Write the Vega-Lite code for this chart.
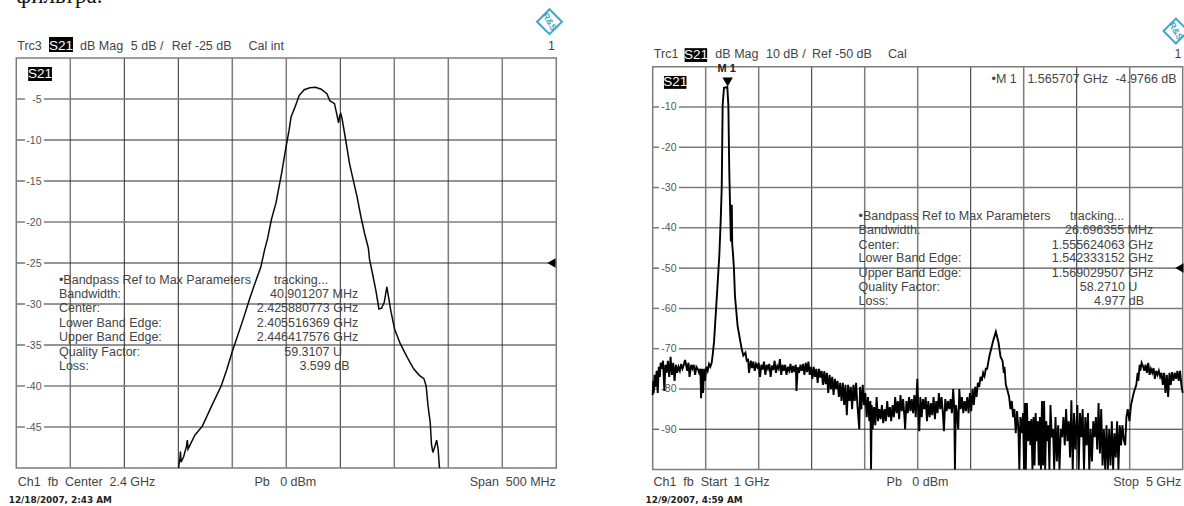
{"$schema":"https://vega.github.io/schema/vega-lite/v6.json","width":1184,"height":506,"autosize":"none","padding":0,"background":"white","config":{"view":{"stroke":null},"text":{"font":"Liberation Sans"}},
"datasets":{
"rulesL":[{"f":2200,"f2":2200,"db":0,"db2":-50,"tone":"gray"},{"f":2250,"f2":2250,"db":0,"db2":-50,"tone":"dark"},{"f":2300,"f2":2300,"db":0,"db2":-50,"tone":"dark"},{"f":2350,"f2":2350,"db":0,"db2":-50,"tone":"gray"},{"f":2400,"f2":2400,"db":0,"db2":-50,"tone":"gray"},{"f":2450,"f2":2450,"db":0,"db2":-50,"tone":"dark"},{"f":2500,"f2":2500,"db":0,"db2":-50,"tone":"gray"},{"f":2550,"f2":2550,"db":0,"db2":-50,"tone":"gray"},{"f":2600,"f2":2600,"db":0,"db2":-50,"tone":"gray"},
{"f":2150,"f2":2158,"db":-5,"db2":-5,"tone":"gray"},{"f":2175.6,"f2":2650,"db":-5,"db2":-5,"tone":"gray"},{"f":2150,"f2":2158,"db":-10,"db2":-10,"tone":"dark"},{"f":2175.6,"f2":2650,"db":-10,"db2":-10,"tone":"dark"},{"f":2150,"f2":2158,"db":-15,"db2":-15,"tone":"dark"},{"f":2175.6,"f2":2650,"db":-15,"db2":-15,"tone":"dark"},{"f":2150,"f2":2158,"db":-20,"db2":-20,"tone":"gray"},{"f":2175.6,"f2":2650,"db":-20,"db2":-20,"tone":"gray"},{"f":2150,"f2":2158,"db":-25,"db2":-25,"tone":"dark"},{"f":2175.6,"f2":2650,"db":-25,"db2":-25,"tone":"dark"},{"f":2150,"f2":2158,"db":-30,"db2":-30,"tone":"dark"},{"f":2175.6,"f2":2650,"db":-30,"db2":-30,"tone":"dark"},{"f":2150,"f2":2158,"db":-35,"db2":-35,"tone":"dark"},{"f":2175.6,"f2":2650,"db":-35,"db2":-35,"tone":"dark"},{"f":2150,"f2":2158,"db":-40,"db2":-40,"tone":"gray"},{"f":2175.6,"f2":2650,"db":-40,"db2":-40,"tone":"gray"},{"f":2150,"f2":2158,"db":-45,"db2":-45,"tone":"gray"},{"f":2175.6,"f2":2650,"db":-45,"db2":-45,"tone":"gray"}],
"rulesR":[{"f":1.4,"f2":1.4,"db":0,"db2":-100,"tone":"gray"},{"f":1.8,"f2":1.8,"db":0,"db2":-100,"tone":"gray"},{"f":2.2,"f2":2.2,"db":0,"db2":-100,"tone":"dark"},{"f":2.6,"f2":2.6,"db":0,"db2":-100,"tone":"gray"},{"f":3.0,"f2":3.0,"db":0,"db2":-100,"tone":"gray"},{"f":3.4,"f2":3.4,"db":0,"db2":-100,"tone":"dark"},{"f":3.8,"f2":3.8,"db":0,"db2":-100,"tone":"gray"},{"f":4.2,"f2":4.2,"db":0,"db2":-100,"tone":"dark"},{"f":4.6,"f2":4.6,"db":0,"db2":-100,"tone":"gray"},
{"f":1,"f2":1.048,"db":-10,"db2":-10,"tone":"gray"},{"f":1.198,"f2":5,"db":-10,"db2":-10,"tone":"gray"},{"f":1,"f2":1.048,"db":-20,"db2":-20,"tone":"gray"},{"f":1.198,"f2":5,"db":-20,"db2":-20,"tone":"gray"},{"f":1,"f2":1.048,"db":-30,"db2":-30,"tone":"gray"},{"f":1.198,"f2":5,"db":-30,"db2":-30,"tone":"gray"},{"f":1,"f2":1.048,"db":-40,"db2":-40,"tone":"gray"},{"f":1.198,"f2":5,"db":-40,"db2":-40,"tone":"gray"},{"f":1,"f2":1.048,"db":-50,"db2":-50,"tone":"dark"},{"f":1.198,"f2":5,"db":-50,"db2":-50,"tone":"dark"},{"f":1,"f2":1.048,"db":-60,"db2":-60,"tone":"gray"},{"f":1.198,"f2":5,"db":-60,"db2":-60,"tone":"gray"},{"f":1,"f2":1.048,"db":-70,"db2":-70,"tone":"gray"},{"f":1.198,"f2":5,"db":-70,"db2":-70,"tone":"gray"},{"f":1,"f2":1.048,"db":-80,"db2":-80,"tone":"gray"},{"f":1.198,"f2":5,"db":-80,"db2":-80,"tone":"gray"},{"f":1,"f2":1.048,"db":-90,"db2":-90,"tone":"dark"},{"f":1.198,"f2":5,"db":-90,"db2":-90,"tone":"dark"}],
"traceL":[{"f":2300.2,"db":-50},{"f":2301.5,"db":-48.8},{"f":2302,"db":-48},{"f":2302.6,"db":-49.3},{"f":2305,"db":-48.6},{"f":2307.5,"db":-47.4},{"f":2308.4,"db":-46.6},{"f":2309,"db":-47.7},{"f":2315.3,"db":-46},{"f":2322.3,"db":-44.9},{"f":2331,"db":-42.4},{"f":2339.7,"db":-40},{"f":2345,"db":-37.95},{"f":2350.2,"db":-35.7},{"f":2355.4,"db":-33.7},{"f":2360.7,"db":-31.6},{"f":2366,"db":-29.4},{"f":2370.1,"db":-27.8},{"f":2376.4,"db":-25.5},{"f":2379.9,"db":-23.4},{"f":2382.7,"db":-22},{"f":2386.2,"db":-19.7},{"f":2390.4,"db":-17.7},{"f":2395.6,"db":-14.1},{"f":2399.8,"db":-10.8},{"f":2402.6,"db":-8.8},{"f":2404.4,"db":-7.2},{"f":2408.6,"db":-5.8},{"f":2412,"db":-4.55},{"f":2416.6,"db":-3.87},{"f":2421.8,"db":-3.62},{"f":2427,"db":-3.58},{"f":2432.3,"db":-3.8},{"f":2437.6,"db":-4.35},{"f":2440.4,"db":-5.24},{"f":2442.1,"db":-5.35},{"f":2444.6,"db":-5.57},{"f":2446.3,"db":-6.58},{"f":2448.4,"db":-7.9},{"f":2449.5,"db":-7},{"f":2450.5,"db":-6.8},{"f":2451.5,"db":-7.3},{"f":2455,"db":-10},{"f":2458.5,"db":-12.85},{"f":2462,"db":-14.9},{"f":2465.5,"db":-16.9},{"f":2469,"db":-19.3},{"f":2472.5,"db":-21.4},{"f":2476,"db":-23.2},{"f":2477,"db":-24.5},{"f":2479.5,"db":-26.1},{"f":2483,"db":-28.4},{"f":2485.8,"db":-30.6},{"f":2488.2,"db":-30.5},{"f":2490.7,"db":-29.8},{"f":2493.1,"db":-27.9},{"f":2494.5,"db":-29},{"f":2497,"db":-31},{"f":2500.4,"db":-33.1},{"f":2505.7,"db":-34.9},{"f":2512,"db":-36.5},{"f":2517.9,"db":-37.9},{"f":2523.2,"db":-38.7},{"f":2527.4,"db":-39.1},{"f":2529.5,"db":-40},{"f":2531.2,"db":-42.4},{"f":2533.3,"db":-44.5},{"f":2534.4,"db":-47.1},{"f":2535.7,"db":-48.1},{"f":2537.8,"db":-47.3},{"f":2539.2,"db":-46.6},{"f":2540.6,"db":-47.7},{"f":2541.7,"db":-49.8},{"f":2542,"db":-50}],
"traceR":[{"f":1.0,"db":-81.5},{"f":1.004,"db":-78},{"f":1.008,"db":-81},{"f":1.014,"db":-76.5},{"f":1.02,"db":-79.5},{"f":1.03,"db":-75.5},{"f":1.038,"db":-81},{"f":1.046,"db":-74.5},{"f":1.054,"db":-77},{"f":1.06,"db":-73.5},{"f":1.07,"db":-75},{"f":1.078,"db":-73},{"f":1.088,"db":-80.5},{"f":1.096,"db":-74},{"f":1.105,"db":-76},{"f":1.115,"db":-73},{"f":1.125,"db":-77},{"f":1.135,"db":-72},{"f":1.145,"db":-76.5},{"f":1.155,"db":-73.5},{"f":1.165,"db":-78},{"f":1.175,"db":-74},{"f":1.185,"db":-76},{"f":1.195,"db":-74.5},{"f":1.205,"db":-75.5},{"f":1.215,"db":-73.8},{"f":1.225,"db":-75},{"f":1.235,"db":-74},{"f":1.244,"db":-72.8},{"f":1.252,"db":-74},{"f":1.26,"db":-75.5},{"f":1.27,"db":-73.5},{"f":1.278,"db":-77},{"f":1.29,"db":-74},{"f":1.3,"db":-75},{"f":1.31,"db":-74},{"f":1.32,"db":-76.5},{"f":1.33,"db":-74.5},{"f":1.34,"db":-75},{"f":1.35,"db":-76},{"f":1.36,"db":-75},{"f":1.365,"db":-82.3},{"f":1.372,"db":-75},{"f":1.38,"db":-81},{"f":1.388,"db":-75},{"f":1.395,"db":-78},{"f":1.405,"db":-74.5},{"f":1.415,"db":-75.5},{"f":1.425,"db":-73.8},{"f":1.435,"db":-74.5},{"f":1.445,"db":-73.5},{"f":1.453,"db":-71.5},{"f":1.463,"db":-68.2},{"f":1.488,"db":-55},{"f":1.503,"db":-46.7},{"f":1.513,"db":-38.4},{"f":1.521,"db":-30},{"f":1.528,"db":-9.5},{"f":1.538,"db":-5.2},{"f":1.563,"db":-5},{"f":1.571,"db":-9.5},{"f":1.578,"db":-26},{"f":1.59,"db":-43.4},{"f":1.597,"db":-34.3},{"f":1.6,"db":-44},{"f":1.605,"db":-46},{"f":1.613,"db":-50},{"f":1.621,"db":-57},{"f":1.641,"db":-64.4},{"f":1.67,"db":-69.8},{"f":1.684,"db":-71.7},{"f":1.7,"db":-71},{"f":1.71,"db":-73},{"f":1.72,"db":-72.8},{"f":1.727,"db":-76},{"f":1.74,"db":-73},{"f":1.75,"db":-74.8},{"f":1.76,"db":-73.2},{"f":1.77,"db":-75.5},{"f":1.78,"db":-73.8},{"f":1.79,"db":-74.6},{"f":1.8,"db":-73.5},{"f":1.81,"db":-77},{"f":1.82,"db":-74},{"f":1.83,"db":-75.2},{"f":1.84,"db":-73.2},{"f":1.85,"db":-76.5},{"f":1.86,"db":-74},{"f":1.87,"db":-75},{"f":1.88,"db":-73.8},{"f":1.89,"db":-77},{"f":1.9,"db":-74.2},{"f":1.91,"db":-75.3},{"f":1.92,"db":-73},{"f":1.93,"db":-76},{"f":1.94,"db":-74.3},{"f":1.95,"db":-75},{"f":1.96,"db":-72.6},{"f":1.97,"db":-76.5},{"f":1.98,"db":-74},{"f":1.99,"db":-75.5},{"f":2.0,"db":-74},{"f":2.01,"db":-76.5},{"f":2.02,"db":-74.5},{"f":2.03,"db":-75.5},{"f":2.04,"db":-73.8},{"f":2.05,"db":-76},{"f":2.06,"db":-74.3},{"f":2.07,"db":-75.8},{"f":2.08,"db":-74},{"f":2.085,"db":-80.5},{"f":2.095,"db":-74.6},{"f":2.105,"db":-76},{"f":2.115,"db":-74},{"f":2.125,"db":-75.5},{"f":2.135,"db":-73.8},{"f":2.145,"db":-76.5},{"f":2.155,"db":-73.5},{"f":2.165,"db":-75.8},{"f":2.175,"db":-73.2},{"f":2.185,"db":-76.5},{"f":2.195,"db":-74.5},{"f":2.205,"db":-77.5},{"f":2.215,"db":-74.5},{"f":2.225,"db":-77},{"f":2.235,"db":-75},{"f":2.245,"db":-78.5},{"f":2.255,"db":-75},{"f":2.265,"db":-77.2},{"f":2.275,"db":-75.5},{"f":2.285,"db":-79},{"f":2.295,"db":-75.6},{"f":2.305,"db":-78.8},{"f":2.315,"db":-76},{"f":2.325,"db":-81},{"f":2.335,"db":-76.5},{"f":2.345,"db":-80},{"f":2.355,"db":-77},{"f":2.365,"db":-81.5},{"f":2.375,"db":-77.5},{"f":2.385,"db":-80},{"f":2.395,"db":-78},{"f":2.405,"db":-82},{"f":2.415,"db":-78.5},{"f":2.425,"db":-83},{"f":2.435,"db":-78.5},{"f":2.445,"db":-84},{"f":2.455,"db":-79},{"f":2.465,"db":-86.5},{"f":2.475,"db":-79},{"f":2.485,"db":-83},{"f":2.495,"db":-79.5},{"f":2.505,"db":-85},{"f":2.515,"db":-79},{"f":2.525,"db":-83},{"f":2.535,"db":-78.5},{"f":2.545,"db":-84},{"f":2.559,"db":-90},{"f":2.565,"db":-79.5},{"f":2.575,"db":-85},{"f":2.585,"db":-79},{"f":2.595,"db":-84},{"f":2.605,"db":-81},{"f":2.615,"db":-87},{"f":2.625,"db":-82},{"f":2.635,"db":-88},{"f":2.643,"db":-83},{"f":2.648,"db":-100},{"f":2.653,"db":-84},{"f":2.66,"db":-90},{"f":2.67,"db":-84.5},{"f":2.68,"db":-89},{"f":2.69,"db":-82},{"f":2.7,"db":-88},{"f":2.71,"db":-85},{"f":2.72,"db":-87.5},{"f":2.73,"db":-84},{"f":2.74,"db":-88.5},{"f":2.75,"db":-85},{"f":2.76,"db":-88},{"f":2.77,"db":-83},{"f":2.78,"db":-87},{"f":2.79,"db":-84.5},{"f":2.8,"db":-88},{"f":2.81,"db":-84},{"f":2.82,"db":-87},{"f":2.83,"db":-82},{"f":2.84,"db":-86},{"f":2.85,"db":-83},{"f":2.86,"db":-87.5},{"f":2.87,"db":-81.5},{"f":2.88,"db":-85.5},{"f":2.89,"db":-82.5},{"f":2.9,"db":-87},{"f":2.905,"db":-90},{"f":2.915,"db":-83},{"f":2.925,"db":-86},{"f":2.935,"db":-82},{"f":2.945,"db":-85.5},{"f":2.955,"db":-82.5},{"f":2.965,"db":-86},{"f":2.975,"db":-81.5},{"f":2.985,"db":-87},{"f":2.997,"db":-77.5},{"f":3.005,"db":-86},{"f":3.012,"db":-90.5},{"f":3.02,"db":-82},{"f":3.03,"db":-87},{"f":3.04,"db":-82.5},{"f":3.05,"db":-85},{"f":3.06,"db":-82},{"f":3.07,"db":-88},{"f":3.08,"db":-83},{"f":3.09,"db":-87},{"f":3.1,"db":-83.5},{"f":3.11,"db":-86.5},{"f":3.12,"db":-82},{"f":3.13,"db":-87.5},{"f":3.14,"db":-83},{"f":3.15,"db":-86},{"f":3.16,"db":-81},{"f":3.17,"db":-85},{"f":3.18,"db":-82},{"f":3.19,"db":-86},{"f":3.198,"db":-90.5},{"f":3.208,"db":-82.5},{"f":3.218,"db":-85.5},{"f":3.228,"db":-83},{"f":3.238,"db":-85},{"f":3.248,"db":-82.5},{"f":3.258,"db":-86},{"f":3.268,"db":-80},{"f":3.276,"db":-85},{"f":3.281,"db":-100},{"f":3.288,"db":-84},{"f":3.296,"db":-86},{"f":3.306,"db":-90},{"f":3.314,"db":-80},{"f":3.324,"db":-85},{"f":3.334,"db":-82},{"f":3.344,"db":-86},{"f":3.354,"db":-83},{"f":3.364,"db":-85.5},{"f":3.374,"db":-82},{"f":3.384,"db":-86},{"f":3.394,"db":-81},{"f":3.404,"db":-85.5},{"f":3.414,"db":-80},{"f":3.424,"db":-84},{"f":3.434,"db":-79.5},{"f":3.444,"db":-82},{"f":3.454,"db":-78.5},{"f":3.464,"db":-79.5},{"f":3.474,"db":-77},{"f":3.484,"db":-78},{"f":3.494,"db":-76},{"f":3.504,"db":-76.8},{"f":3.514,"db":-75},{"f":3.524,"db":-75},{"f":3.54,"db":-72},{"f":3.57,"db":-68},{"f":3.59,"db":-65.8},{"f":3.61,"db":-68.5},{"f":3.625,"db":-72},{"f":3.64,"db":-73},{"f":3.65,"db":-76},{"f":3.655,"db":-74.5},{"f":3.665,"db":-79},{"f":3.675,"db":-80},{"f":3.69,"db":-82},{"f":3.7,"db":-85},{"f":3.71,"db":-83},{"f":3.72,"db":-87},{"f":3.73,"db":-85},{"f":3.74,"db":-91},{"f":3.75,"db":-85.5},{"f":3.76,"db":-90},{"f":3.767,"db":-100},{"f":3.775,"db":-87},{"f":3.785,"db":-91},{"f":3.795,"db":-86},{"f":3.803,"db":-100},{"f":3.81,"db":-83.5},{"f":3.816,"db":-100},{"f":3.824,"db":-83.5},{"f":3.832,"db":-93},{"f":3.842,"db":-88},{"f":3.85,"db":-94},{"f":3.858,"db":-87.5},{"f":3.866,"db":-100},{"f":3.874,"db":-87},{"f":3.882,"db":-99},{"f":3.89,"db":-86},{"f":3.898,"db":-93},{"f":3.906,"db":-88},{"f":3.914,"db":-99},{"f":3.922,"db":-87},{"f":3.93,"db":-100},{"f":3.938,"db":-83},{"f":3.946,"db":-99},{"f":3.954,"db":-83},{"f":3.962,"db":-100},{"f":3.97,"db":-88},{"f":3.978,"db":-93},{"f":3.986,"db":-89},{"f":3.994,"db":-100},{"f":4.002,"db":-84},{"f":4.012,"db":-92},{"f":4.022,"db":-90},{"f":4.03,"db":-100},{"f":4.04,"db":-87},{"f":4.05,"db":-98},{"f":4.06,"db":-89},{"f":4.07,"db":-100},{"f":4.08,"db":-90},{"f":4.09,"db":-92},{"f":4.1,"db":-87},{"f":4.11,"db":-94},{"f":4.12,"db":-85},{"f":4.13,"db":-93},{"f":4.14,"db":-88},{"f":4.15,"db":-97},{"f":4.16,"db":-82.8},{"f":4.17,"db":-100},{"f":4.18,"db":-86},{"f":4.19,"db":-95},{"f":4.205,"db":-84},{"f":4.215,"db":-100},{"f":4.225,"db":-86},{"f":4.235,"db":-92},{"f":4.245,"db":-85},{"f":4.255,"db":-100},{"f":4.265,"db":-87},{"f":4.275,"db":-94},{"f":4.285,"db":-86},{"f":4.295,"db":-100},{"f":4.305,"db":-90},{"f":4.315,"db":-98},{"f":4.325,"db":-88},{"f":4.335,"db":-92},{"f":4.345,"db":-87},{"f":4.355,"db":-95},{"f":4.365,"db":-83.5},{"f":4.375,"db":-96},{"f":4.385,"db":-85},{"f":4.395,"db":-99},{"f":4.405,"db":-90},{"f":4.415,"db":-100},{"f":4.425,"db":-89},{"f":4.435,"db":-100},{"f":4.445,"db":-90},{"f":4.455,"db":-99},{"f":4.465,"db":-88},{"f":4.475,"db":-100},{"f":4.485,"db":-91},{"f":4.495,"db":-97},{"f":4.505,"db":-88},{"f":4.515,"db":-100},{"f":4.525,"db":-89},{"f":4.535,"db":-94},{"f":4.545,"db":-89},{"f":4.555,"db":-92.5},{"f":4.566,"db":-94},{"f":4.575,"db":-87},{"f":4.585,"db":-85},{"f":4.598,"db":-88},{"f":4.61,"db":-84},{"f":4.63,"db":-81},{"f":4.65,"db":-79},{"f":4.66,"db":-76},{"f":4.665,"db":-78},{"f":4.675,"db":-74},{"f":4.68,"db":-75.5},{"f":4.69,"db":-73.5},{"f":4.7,"db":-74.3},{"f":4.71,"db":-75.5},{"f":4.72,"db":-74},{"f":4.73,"db":-76},{"f":4.74,"db":-73.5},{"f":4.75,"db":-76.5},{"f":4.76,"db":-75},{"f":4.77,"db":-76},{"f":4.78,"db":-74.8},{"f":4.79,"db":-77.5},{"f":4.8,"db":-75.5},{"f":4.81,"db":-76.5},{"f":4.82,"db":-75.5},{"f":4.83,"db":-77},{"f":4.84,"db":-76},{"f":4.85,"db":-79},{"f":4.86,"db":-76},{"f":4.87,"db":-81},{"f":4.88,"db":-76.5},{"f":4.89,"db":-82},{"f":4.9,"db":-76},{"f":4.91,"db":-79},{"f":4.92,"db":-75.8},{"f":4.93,"db":-78},{"f":4.94,"db":-76},{"f":4.95,"db":-77.5},{"f":4.96,"db":-75.5},{"f":4.97,"db":-78},{"f":4.98,"db":-75.5},{"f":4.99,"db":-79},{"f":5.0,"db":-81}]
},
"layer":[
{"encoding":{"x":{"field":"f","type":"quantitative","scale":{"domain":[2150,2650],"range":[16.3,556.3],"nice":false,"zero":false},"axis":null},"y":{"field":"db","type":"quantitative","scale":{"domain":[0,-50],"range":[58,468],"nice":false,"zero":false},"axis":{"orient":"left","values":[-5,-10,-15,-20,-25,-30,-35,-40,-45],"labelExpr":"'-' + abs(datum.value)","offset":-41,"labelPadding":0,"domain":false,"ticks":false,"grid":false,"title":null,"labelFont":"Liberation Sans","labelFontSize":10.5,"labelColor":"#555555"}}},
"layer":[
{"data":{"name":"rulesL"},"mark":{"type":"rule"},"encoding":{"x2":{"field":"f2"},"y2":{"field":"db2"},"color":{"field":"tone","type":"nominal","scale":{"domain":["dark","gray"],"range":["#2a2a2a","#7c7c7c"]},"legend":null},"strokeWidth":{"field":"tone","type":"nominal","scale":{"domain":["dark","gray"],"range":[1,1.5]},"legend":null}}},
{"data":{"values":[{"f":2150,"f2":2650,"db":0,"db2":-50}]},"mark":{"type":"rect","fill":"transparent","stroke":"#7c7c7c","strokeWidth":1.5},"encoding":{"x2":{"field":"f2"},"y2":{"field":"db2"}}},
{"data":{"name":"traceL"},"mark":{"type":"line","color":"#0a0a0a","strokeWidth":1.5},"encoding":{}},
{"data":{"values":[{"f1":2180.3,"f2":2202.5,"db1":2.55,"db2":0.72},{"f1":2161,"f2":2183,"db1":-1.1,"db2":-2.8}]},"mark":{"type":"rect","color":"#000000"},"encoding":{"x":{"field":"f1","type":"quantitative"},"x2":{"field":"f2"},"y":{"field":"db1","type":"quantitative"},"y2":{"field":"db2"}}},
{"data":{"values":[{"f":2191.4,"db":1.5,"label":"S21"},{"f":2172,"db":-1.95,"label":"S21"}]},"mark":{"type":"text","color":"white","fontSize":13.5,"align":"center","baseline":"middle"},"encoding":{"text":{"field":"label"}}},
{"data":{"values":[{"f":2150.9,"db":1.5,"label":"Trc3"},{"f":2209,"db":1.5,"label":"dB Mag"},{"f":2256,"db":1.5,"label":"5 dB /"},{"f":2294,"db":1.5,"label":"Ref -25 dB"},{"f":2365,"db":1.5,"label":"Cal int"},{"f":2151.4,"db":-51.67,"label":"Ch1\u00a0\u00a0fb\u00a0\u00a0Center\u00a0\u00a02.4 GHz"},{"f":2370.5,"db":-51.67,"label":"Pb\u00a0\u00a0\u00a00 dBm"},{"f":2189.5,"db":-27.04,"label":"•Bandpass Ref to Max Parameters"},{"f":2388.6,"db":-27.04,"label":"tracking..."},{"f":2189.5,"db":-28.78,"label":"Bandwidth:"},{"f":2189.5,"db":-30.52,"label":"Center:"},{"f":2189.5,"db":-32.32,"label":"Lower Band Edge:"},{"f":2189.5,"db":-34.06,"label":"Upper Band Edge:"},{"f":2189.5,"db":-35.82,"label":"Quality Factor:"},{"f":2189.5,"db":-37.6,"label":"Loss:"}]},"mark":{"type":"text","color":"#444444","fontSize":12.5,"align":"left","baseline":"middle"},"encoding":{"text":{"field":"label"}}},
{"data":{"values":[{"f":2648.8,"db":1.5,"label":"1"},{"f":2649.6,"db":-51.67,"label":"Span\u00a0\u00a0500 MHz"},{"f":2466.6,"db":-28.78,"label":"40.901207 MHz"},{"f":2466.6,"db":-30.52,"label":"2.425880773 GHz"},{"f":2466.6,"db":-32.32,"label":"2.405516369 GHz"},{"f":2466.6,"db":-34.06,"label":"2.446417576 GHz"},{"f":2451.5,"db":-35.82,"label":"59.3107 U"},{"f":2458.5,"db":-37.6,"label":"3.599 dB"}]},"mark":{"type":"text","color":"#444444","fontSize":12.5,"align":"right","baseline":"middle"},"encoding":{"text":{"field":"label"}}},
{"data":{"values":[{"f":2143,"db":-53.94,"label":"12/18/2007, 2:43 AM"}]},"mark":{"type":"text","color":"#222222","font":"DejaVu Sans","fontWeight":"bold","fontSize":8.9,"align":"left","baseline":"middle"},"encoding":{"text":{"field":"label"}}},
{"data":{"values":[{"f":2150,"db":6.7,"label":"фильтра."}]},"mark":{"type":"text","color":"#111111","font":"Liberation Serif","fontSize":23,"align":"left","baseline":"alphabetic"},"encoding":{"text":{"field":"label"}}},
{"data":{"values":[{"f":2643.7,"db":4.43}]},"mark":{"type":"point","shape":"diamond","size":620,"filled":false,"color":"#3fa7c9","strokeWidth":2,"opacity":1},"encoding":{}},
{"data":{"values":[{"f":2643.7,"db":4.43,"label":"R&S"}]},"mark":{"type":"text","color":"#3fa7c9","fontSize":9,"fontWeight":"bold","angle":60,"align":"center","baseline":"middle"},"encoding":{"text":{"field":"label"}}},
{"data":{"values":[{"f":2645.5,"db":-25}]},"mark":{"type":"point","shape":"triangle-left","size":90,"filled":true,"color":"#000000","opacity":1},"encoding":{}}
]},
{"encoding":{"x":{"field":"f","type":"quantitative","scale":{"domain":[1,5],"range":[652.7,1182.7],"nice":false,"zero":false},"axis":null},"y":{"field":"db","type":"quantitative","scale":{"domain":[0,-100],"range":[66.7,469.5],"nice":false,"zero":false},"axis":{"orient":"left","values":[-10,-20,-30,-40,-50,-60,-70,-80,-90],"labelExpr":"'-' + abs(datum.value)","offset":-676,"labelPadding":0,"domain":false,"ticks":false,"grid":false,"title":null,"labelFont":"Liberation Sans","labelFontSize":10.5,"labelColor":"#555555"}}},
"layer":[
{"data":{"name":"rulesR"},"mark":{"type":"rule"},"encoding":{"x2":{"field":"f2"},"y2":{"field":"db2"},"color":{"field":"tone","type":"nominal","scale":{"domain":["dark","gray"],"range":["#2a2a2a","#7c7c7c"]},"legend":null},"strokeWidth":{"field":"tone","type":"nominal","scale":{"domain":["dark","gray"],"range":[1,1.5]},"legend":null}}},
{"data":{"values":[{"f":1,"f2":5,"db":0,"db2":-100}]},"mark":{"type":"rect","fill":"transparent","stroke":"#7c7c7c","strokeWidth":1.5},"encoding":{"x2":{"field":"f2"},"y2":{"field":"db2"}}},
{"data":{"name":"traceR"},"mark":{"type":"line","color":"#000000","strokeWidth":1.9},"encoding":{}},
{"data":{"values":[{"f1":1.241,"f2":1.411,"db1":4.6,"db2":1.16},{"f1":1.085,"f2":1.255,"db1":-2.3,"db2":-5.5}]},"mark":{"type":"rect","color":"#000000"},"encoding":{"x":{"field":"f1","type":"quantitative"},"x2":{"field":"f2"},"y":{"field":"db1","type":"quantitative"},"y2":{"field":"db2"}}},
{"data":{"values":[{"f":1.326,"db":2.9,"label":"S21"},{"f":1.17,"db":-3.9,"label":"S21"}]},"mark":{"type":"text","color":"white","fontSize":13.5,"align":"center","baseline":"middle"},"encoding":{"text":{"field":"label"}}},
{"data":{"values":[{"f":1.0086,"db":3.08,"label":"Trc1"},{"f":1.473,"db":3.08,"label":"dB Mag"},{"f":1.855,"db":3.08,"label":"10 dB /"},{"f":2.203,"db":3.08,"label":"Ref -50 dB"},{"f":2.776,"db":3.08,"label":"Cal"},{"f":1.006,"db":-103.1,"label":"Ch1\u00a0\u00a0fb\u00a0\u00a0Start\u00a0\u00a01 GHz"},{"f":2.765,"db":-103.1,"label":"Pb\u00a0\u00a0\u00a00 dBm"},{"f":3.557,"db":-2.98,"label":"•M 1"},{"f":3.828,"db":-2.98,"label":"1.565707 GHz"},{"f":2.554,"db":-37.05,"label":"•Bandpass Ref to Max Parameters"},{"f":4.15,"db":-37.05,"label":"tracking..."},{"f":2.554,"db":-40.6,"label":"Bandwidth:"},{"f":2.554,"db":-44.17,"label":"Center:"},{"f":2.554,"db":-47.54,"label":"Lower Band Edge:"},{"f":2.554,"db":-51.1,"label":"Upper Band Edge:"},{"f":2.554,"db":-54.66,"label":"Quality Factor:"},{"f":2.554,"db":-58.14,"label":"Loss:"}]},"mark":{"type":"text","color":"#444444","fontSize":12.5,"align":"left","baseline":"middle"},"encoding":{"text":{"field":"label"}}},
{"data":{"values":[{"f":4.99,"db":3.08,"label":"1"},{"f":4.99,"db":-103.1,"label":"Stop\u00a0\u00a05 GHz"},{"f":4.954,"db":-2.98,"label":"-4.9766 dB"},{"f":4.778,"db":-40.6,"label":"26.696355 MHz"},{"f":4.778,"db":-44.17,"label":"1.555624063 GHz"},{"f":4.778,"db":-47.54,"label":"1.542333152 GHz"},{"f":4.778,"db":-51.1,"label":"1.569029507 GHz"},{"f":4.658,"db":-54.66,"label":"58.2710 U"},{"f":4.709,"db":-58.14,"label":"4.977 dB"}]},"mark":{"type":"text","color":"#444444","fontSize":12.5,"align":"right","baseline":"middle"},"encoding":{"text":{"field":"label"}}},
{"data":{"values":[{"f":1.559,"db":-0.65,"label":"M 1"}]},"mark":{"type":"text","color":"#222222","fontSize":11,"fontWeight":"bold","align":"center","baseline":"middle"},"encoding":{"text":{"field":"label"}}},
{"data":{"values":[{"f":0.946,"db":-107.5,"label":"12/9/2007, 4:59 AM"}]},"mark":{"type":"text","color":"#222222","font":"DejaVu Sans","fontWeight":"bold","fontSize":8.9,"align":"left","baseline":"middle"},"encoding":{"text":{"field":"label"}}},
{"data":{"values":[{"f":4.949,"db":8.86}]},"mark":{"type":"point","shape":"diamond","size":620,"filled":false,"color":"#3fa7c9","strokeWidth":2,"opacity":1},"encoding":{}},
{"data":{"values":[{"f":4.949,"db":8.86,"label":"R&S"}]},"mark":{"type":"text","color":"#3fa7c9","fontSize":9,"fontWeight":"bold","angle":60,"align":"center","baseline":"middle"},"encoding":{"text":{"field":"label"}}},
{"data":{"values":[{"f":1.5657,"db":-3.8}]},"mark":{"type":"point","shape":"triangle-down","size":110,"filled":true,"color":"#000000","opacity":1},"encoding":{}},
{"data":{"values":[{"f":4.975,"db":-50}]},"mark":{"type":"point","shape":"triangle-left","size":90,"filled":true,"color":"#000000","opacity":1},"encoding":{}}
]}
],
"resolve":{"scale":{"x":"independent","y":"independent"}}}
